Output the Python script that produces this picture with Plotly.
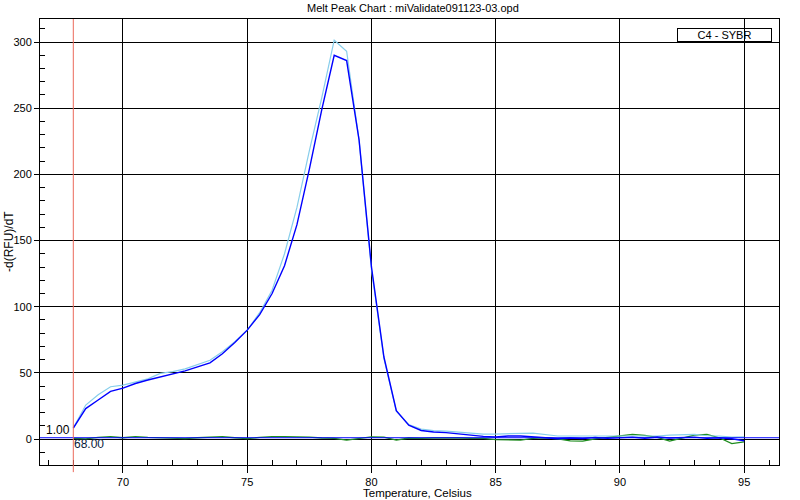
import plotly.graph_objects as go

TITLE = "Melt Peak Chart : miValidate091123-03.opd"
X_TITLE = "Temperature, Celsius"
Y_TITLE = "-d(RFU)/dT"
LEGEND_TEXT = "C4 - SYBR"
THRESHOLD = 1.00
MARK_TEMP = 68.00

temps = [68.0, 68.5, 69.0, 69.5, 70.0, 70.5, 71.0, 71.5, 72.0, 72.5, 73.0, 73.5,
         74.0, 74.5, 75.0, 75.5, 76.0, 76.5, 77.0, 77.5, 78.0, 78.5, 79.0, 79.5,
         80.0, 80.5, 81.0, 81.5, 82.0, 82.5, 83.0, 83.5, 84.0, 84.5, 85.0, 85.5,
         86.0, 86.5, 87.0, 87.5, 88.0, 88.5, 89.0, 89.5, 90.0, 90.5, 91.0, 91.5,
         92.0, 92.5, 93.0, 93.5, 94.0, 94.5, 95.0]

dark_blue = [8.3, 23, 29.5, 36, 38.5, 42, 44.6, 47, 49, 51.5, 54.5, 57.6,
             64.5, 73, 82.3, 94, 110, 131, 162, 204, 249, 290, 286, 226,
             130, 62, 21.5, 10.5, 6.5, 5.3, 4.9, 3.8, 2.6, 2.0, 1.6, 2.3,
             2.3, 1.8, 1.0, 0.2, 0.8, 0.3, 1.2, 0.5, 0.8, 1.5, 0.6, 1.6,
             0.8, 1.0, 1.5, 0.5, 1.0, 0.2, -1.3]

light_blue = [8.3, 25.7, 33.5, 39.5, 40.8, 43, 45.5, 49.6, 51, 53, 56, 59.5,
              66, 73.5, 82.3, 95.5, 112.5, 140, 175, 218, 258, 301.4, 293, 226,
              128, 61, 21, 11, 7.5, 6.3, 6.0, 5.3, 4.3, 3.8, 3.8, 3.8,
              4.3, 4.5, 3.3, 2.3, 2.3, 2.3, 2.0, 2.0, 2.0, 2.5, 2.3, 2.3,
              3.0, 3.5, 3.5, 2.5, 2.3, 1.5, 1.7]

green = [0.5, 0.2, 1.2, 1.8, 1.0, 1.8, 1.2, 0.8, 0.9, 0.3, 1.0, 1.3,
         1.8, 1.0, 0.3, 1.2, 1.8, 1.8, 1.8, 1.5, 0.8, 0.5, -0.8, 0.6,
         1.7, 1.5, -0.8, 0.8, 0.5, 0.8, 1.0, 0.8, 0.5, 0.5, -0.5, -0.8,
         -0.8, 0.5, 1.0, 0.2, -1.3, -1.5, 0.2, 1.2, 2.5, 3.5, 2.8, 1.2,
         -1.5, 0.5, 3.0, 3.5, 1.0, -3.5, -2.2]

FONT = "Liberation Sans, Arial, sans-serif"

fig = go.Figure()
fig.add_trace(go.Scatter(x=temps, y=green, mode="lines",
                         line=dict(color="#1E8C1E", width=1.3), hoverinfo="skip"))
fig.add_trace(go.Scatter(x=temps, y=light_blue, mode="lines",
                         line=dict(color="#87CEEB", width=1.2), hoverinfo="skip"))
fig.add_trace(go.Scatter(x=temps, y=dark_blue, mode="lines",
                         line=dict(color="#0000FF", width=1.4), hoverinfo="skip"))

# threshold line and temperature marker
fig.add_shape(type="line", xref="paper", x0=0, x1=1, yref="y", y0=THRESHOLD, y1=THRESHOLD,
              line=dict(color="#0000FF", width=1), layer="above")
fig.add_shape(type="line", xref="x", x0=MARK_TEMP, x1=MARK_TEMP, yref="paper", y0=-0.016, y1=1,
              line=dict(color="#EC6A5A", width=1), layer="above")

fig.add_annotation(x=MARK_TEMP, y=THRESHOLD, xref="x", yref="y", text="1.00", showarrow=False,
                   xanchor="right", yanchor="middle", yshift=8, xshift=-1,
                   font=dict(family=FONT, size=12, color="#000000"))
fig.add_annotation(x=MARK_TEMP, y=0, xref="x", yref="y", text="68.00", showarrow=False,
                   xanchor="left", yanchor="middle", yshift=-5, xshift=-1,
                   font=dict(family=FONT, size=12, color="#0A1A3A"))

# legend box
fig.add_annotation(x=0.9263, y=0.9641, xref="paper", yref="paper", text=LEGEND_TEXT,
                   showarrow=False, xanchor="center", yanchor="middle",
                   width=93, height=12, borderpad=0, bordercolor="#000000", borderwidth=1,
                   font=dict(family=FONT, size=11, color="#000000"))

# titles as annotations
fig.add_annotation(x=0.5, y=1, xref="paper", yref="paper", text=TITLE, showarrow=False,
                   xanchor="center", yanchor="bottom", xshift=3, yshift=3,
                   font=dict(family=FONT, size=11, color="#000000"))
fig.add_annotation(x=0.5, y=0, xref="paper", yref="paper", text=X_TITLE, showarrow=False,
                   xanchor="center", yanchor="top", xshift=8, yshift=-20,
                   font=dict(family=FONT, size=11.5, color="#000000"))
fig.add_annotation(x=0, y=0.5, xref="paper", yref="paper", text=Y_TITLE, showarrow=False,
                   xanchor="center", yanchor="middle", xshift=-31, yshift=0, textangle=-90,
                   font=dict(family=FONT, size=12, color="#000000"))

fig.update_layout(
    width=800, height=500,
    margin=dict(l=40, r=21, t=19, b=35),
    paper_bgcolor="white", plot_bgcolor="white",
    showlegend=False,
    font=dict(family=FONT, size=11, color="#000000"),
    xaxis=dict(range=[66.66, 96.4], tick0=70, dtick=5, showgrid=True, gridcolor="#000000",
               gridwidth=1, zeroline=False, showline=True, linecolor="#000000", linewidth=1,
               mirror=True, ticks="outside", ticklen=7, tickcolor="#000000",
               tickfont=dict(family=FONT, size=11, color="#000000"),
               minor=dict(dtick=1, tick0=70, ticks="inside", ticklen=5, tickcolor="#000000",
                          showgrid=False)),
    yaxis=dict(range=[-19.6, 317.4], tick0=0, dtick=50, showgrid=True, gridcolor="#000000",
               gridwidth=1, zeroline=False, showline=True, linecolor="#000000", linewidth=1,
               mirror=True, ticks="outside", ticklen=5, tickcolor="#000000",
               tickfont=dict(family=FONT, size=11, color="#000000"),
               minor=dict(dtick=10, tick0=0, ticks="inside", ticklen=5, tickcolor="#000000",
                          showgrid=False)),
)

fig.write_html("out.html", config={"displayModeBar": False},
               post_script="document.body.style.margin='0';document.body.style.overflow='hidden';")
